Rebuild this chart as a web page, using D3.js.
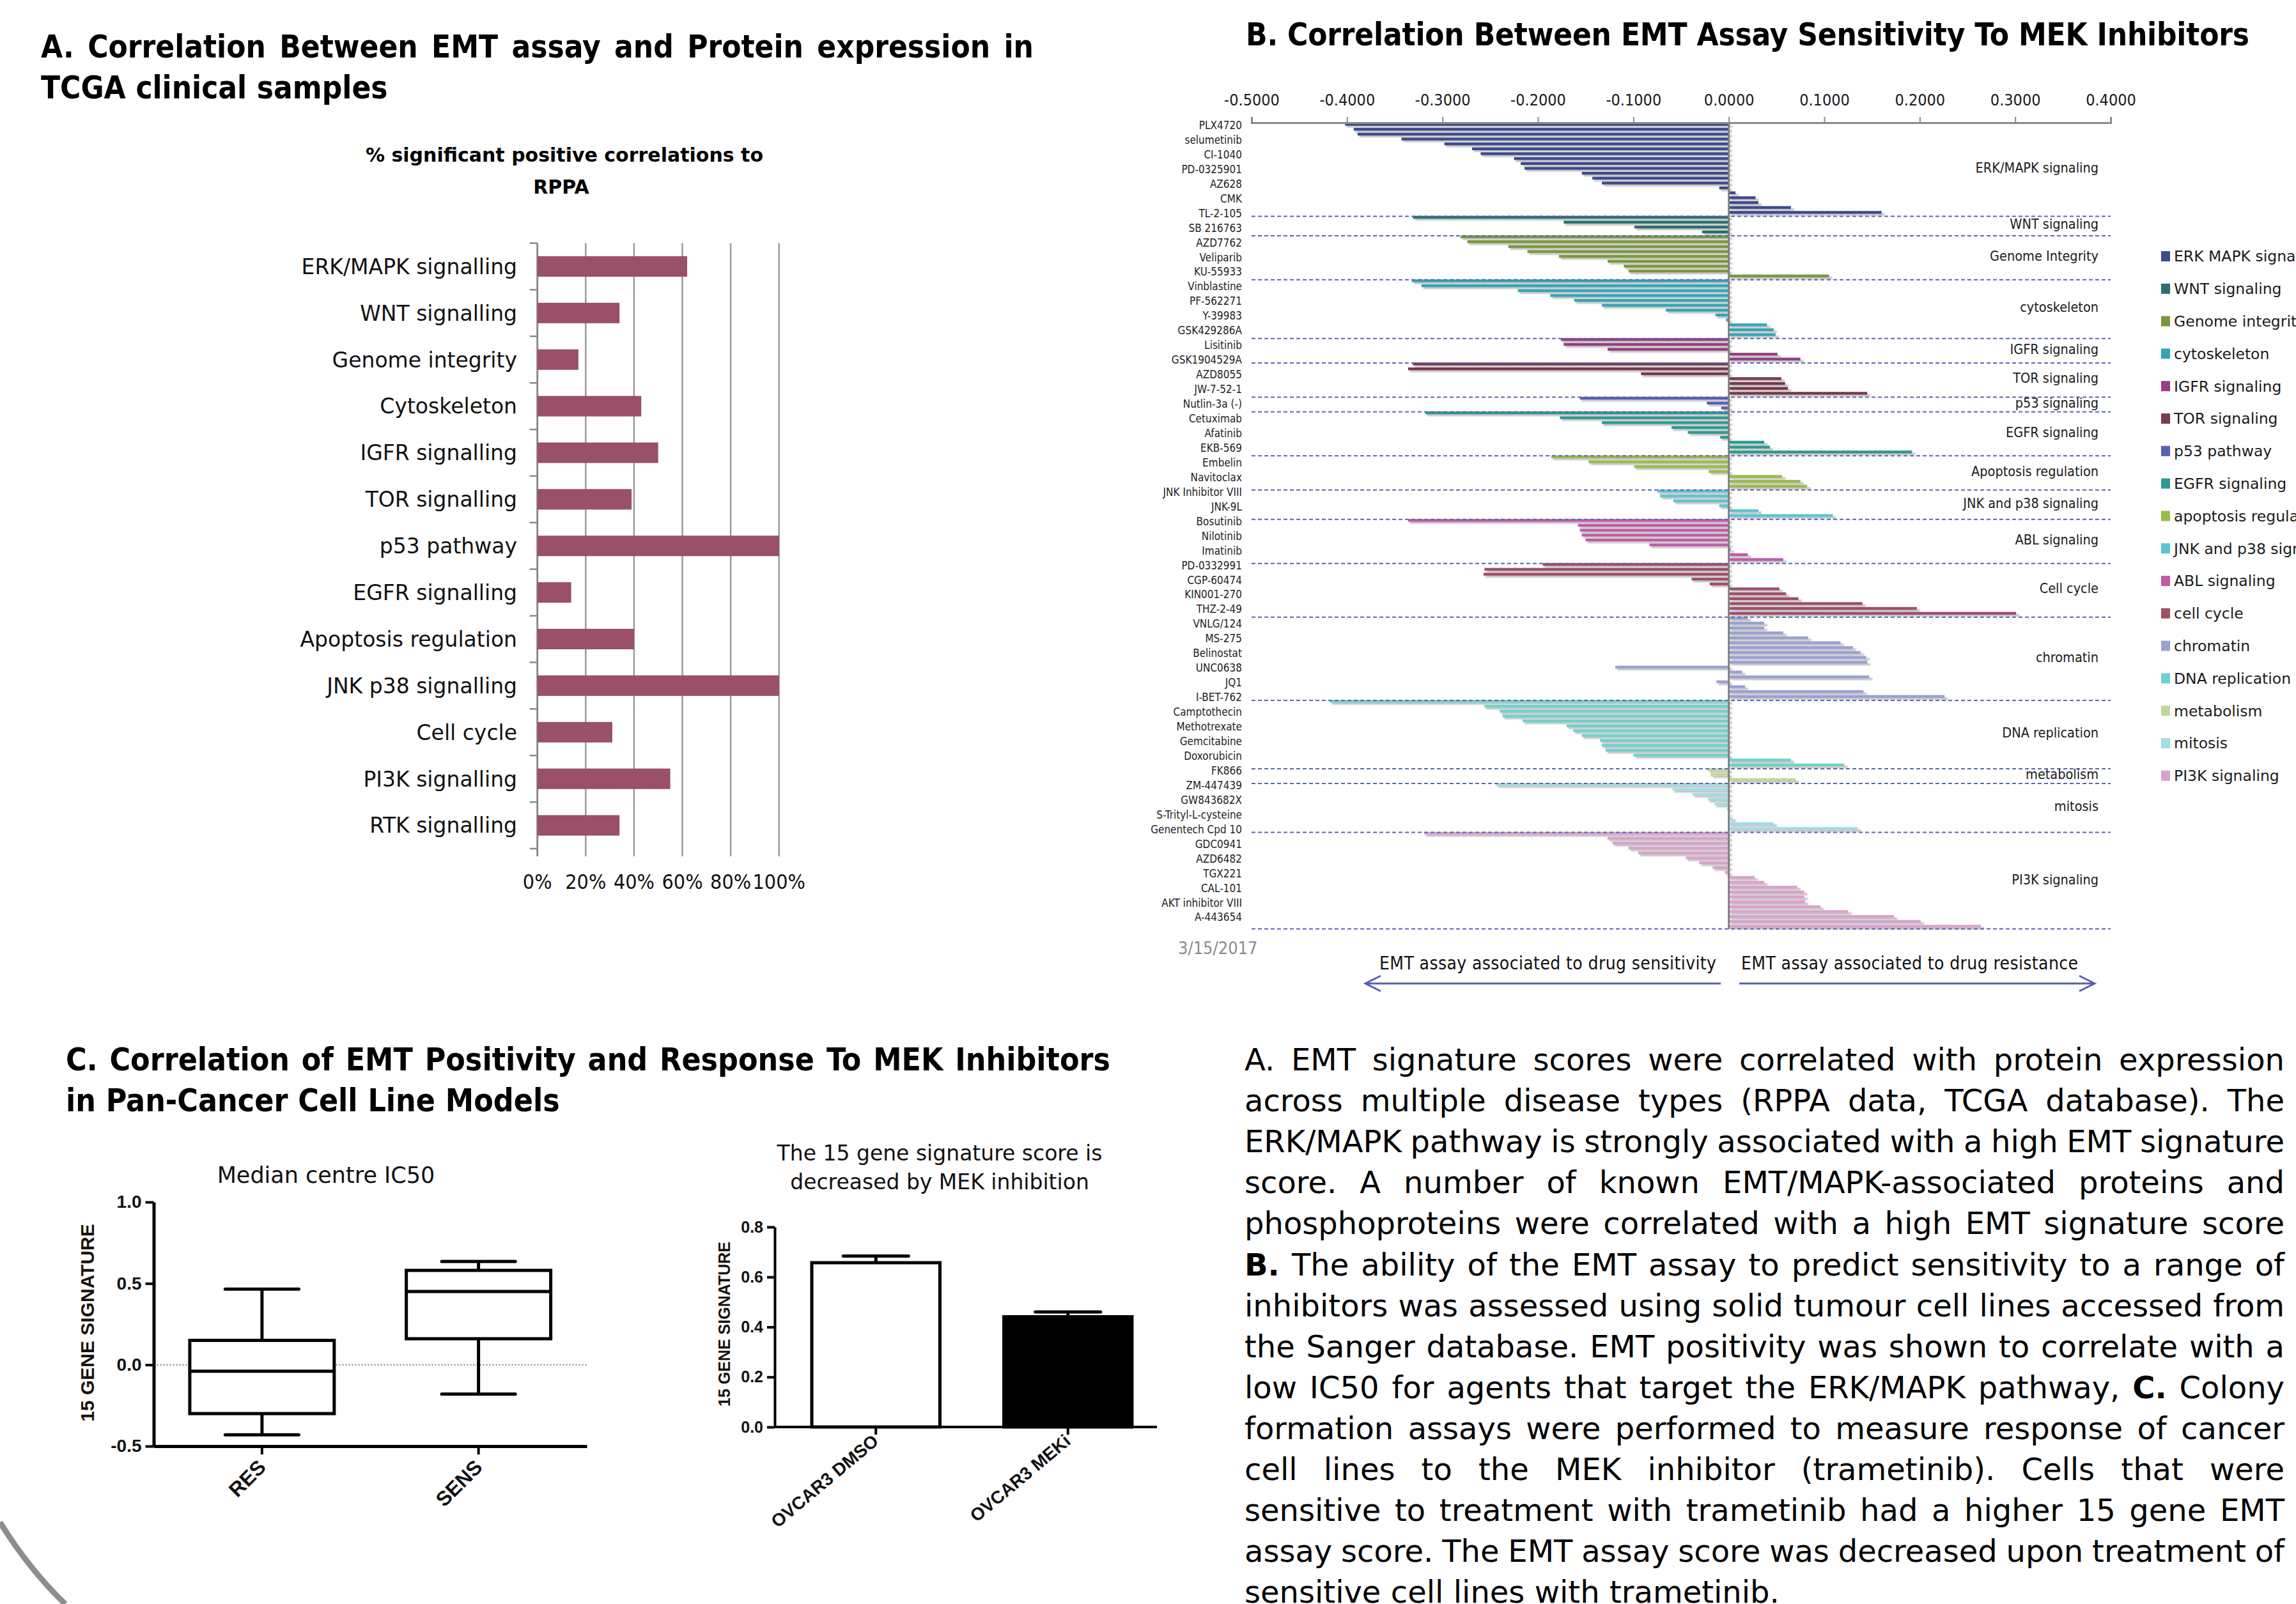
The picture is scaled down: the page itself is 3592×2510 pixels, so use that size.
<!DOCTYPE html>
<html lang="en">
<head>
  <meta charset="UTF-8">
  <title>EMT assay correlations</title>
  <style>
    body { margin: 0; background: #fff; }
    svg { display: block; background: #fff; }
    text { font-family: 'DejaVu Sans Condensed', 'DejaVu Sans', sans-serif; font-stretch: condensed; }
    text.wide, .wide text { font-family: 'DejaVu Sans', sans-serif; font-stretch: normal; }
    .arial, .arial text { font-family: 'Liberation Sans', Arial, sans-serif; font-stretch: normal; font-weight: bold; }
  </style>
</head>
<body>
  <script src="https://cdn.jsdelivr.net/npm/d3@7"></script>
  <script>
    const W = 3592, H = 2510;

    // ---------- Panel A data ----------
    const rppaCategories = ["ERK/MAPK signalling", "WNT signalling", "Genome integrity", "Cytoskeleton",
      "IGFR signalling", "TOR signalling", "p53 pathway", "EGFR signalling", "Apoptosis regulation",
      "JNK p38 signalling", "Cell cycle", "PI3K signalling", "RTK signalling"];
    const rppaPercent = [62, 34, 17, 43, 50, 39, 100, 14, 40, 100, 31, 55, 34];
    const rppaTicks = [0, 20, 40, 60, 80, 100];

    // ---------- Panel B data ----------
    const groupLabels = ["ERK/MAPK signaling", "WNT signaling", "Genome Integrity", "cytoskeleton",
      "IGFR signaling", "TOR signaling", "p53 signaling", "EGFR signaling", "Apoptosis regulation",
      "JNK and p38 signaling", "ABL signaling", "Cell cycle", "chromatin", "DNA replication",
      "metabolism", "mitosis", "PI3K signaling"];
    const legendLabels = ["ERK MAPK signaling", "WNT signaling", "Genome integrity", "cytoskeleton",
      "IGFR signaling", "TOR signaling", "p53 pathway", "EGFR signaling", "apoptosis regulation",
      "JNK and p38 signaling", "ABL signaling", "cell cycle", "chromatin", "DNA replication",
      "metabolism", "mitosis", "PI3K signaling"];
    const groupColors = ["#3d4a8c", "#2b6e6e", "#7a983a", "#34a5b6", "#94407f", "#773b4b", "#5860b2",
      "#2e9990", "#9bbb4a", "#5ec4d3", "#c05ca7", "#9f4f68", "#9aa1d2", "#70d1cc", "#c0d99a",
      "#a3dde6", "#d9a3cb"];

    const erkVals = [-0.402, -0.393, -0.389, -0.343, -0.298, -0.269, -0.260, -0.225, -0.218, -0.214,
      -0.154, -0.143, -0.133, -0.010, 0.007, 0.028, 0.031, 0.065, 0.160];
    const wntVals = [-0.331, -0.173, -0.099, -0.028];
    const genomeVals = [-0.281, -0.274, -0.231, -0.211, -0.178, -0.127, -0.110, -0.105, 0.105];
    const cytoVals = [-0.332, -0.322, -0.221, -0.187, -0.162, -0.133, -0.066, -0.014, -0.003, 0.040, 0.047, 0.049];
    const igfrVals = [-0.176, -0.173, -0.127, 0.051, 0.075];
    const torVals = [-0.331, -0.336, -0.092, 0.055, 0.059, 0.062, 0.145];
    const p53Vals = [-0.156, -0.023, -0.008];
    const egfrVals = [-0.318, -0.177, -0.133, -0.060, -0.043, -0.009, 0.037, 0.043, 0.192];
    const apopVals = [-0.186, -0.147, -0.099, -0.021, 0.056, 0.075, 0.082];
    const jnkVals = [-0.075, -0.072, -0.058, -0.010, 0.031, 0.109];
    const ablVals = [-0.336, -0.158, -0.156, -0.154, -0.150, -0.083, 0.002, 0.020, 0.057];
    const cellVals = [-0.195, -0.256, -0.257, -0.039, -0.020, 0.053, 0.060, 0.073, 0.140, 0.197, 0.301];
    const chromVals = [0.020, 0.037, 0.037, 0.057, 0.083, 0.117, 0.130, 0.138, 0.144, 0.145, -0.119,
      0.014, 0.147, -0.013, 0.017, 0.141, 0.226];
    const dnaVals = [-0.418, -0.256, -0.240, -0.237, -0.216, -0.170, -0.163, -0.154, -0.135, -0.133,
      -0.129, -0.100, 0.065, 0.121];
    const metabVals = [-0.022, -0.019, 0.070];
    const mitosisVals = [-0.244, -0.059, -0.038, -0.022, -0.015, -0.002, 0, 0.004, 0.047, 0.135];
    const pi3kVals = [-0.319, -0.127, -0.122, -0.105, -0.095, -0.045, -0.031, -0.017, -0.004, 0.027,
      0.037, 0.072, 0.079, 0.079, 0.080, 0.096, 0.125, 0.173, 0.201, 0.264];

    // only every third drug is labelled on the axis
    const drugLabels = ["PLX4720", "selumetinib", "CI-1040", "PD-0325901", "AZ628", "CMK", "TL-2-105",
      "SB 216763", "AZD7762", "Veliparib", "KU-55933", "Vinblastine", "PF-562271", "Y-39983",
      "GSK429286A", "Lisitinib", "GSK1904529A", "AZD8055", "JW-7-52-1", "Nutlin-3a (-)", "Cetuximab",
      "Afatinib", "EKB-569", "Embelin", "Navitoclax", "JNK Inhibitor VIII", "JNK-9L", "Bosutinib",
      "Nilotinib", "Imatinib", "PD-0332991", "CGP-60474", "KIN001-270", "THZ-2-49", "VNLG/124",
      "MS-275", "Belinostat", "UNC0638", "JQ1", "I-BET-762", "Camptothecin", "Methotrexate",
      "Gemcitabine", "Doxorubicin", "FK866", "ZM-447439", "GW843682X", "S-Trityl-L-cysteine",
      "Genentech Cpd 10", "GDC0941", "AZD6482", "TGX221", "CAL-101", "AKT inhibitor VIII", "A-443654"];
    const corrTicks = [-0.5, -0.4, -0.3, -0.2, -0.1, 0, 0.1, 0.2, 0.3, 0.4];

    // ---------- Panel C data ----------
    const boxGroups = ["RES", "SENS"];
    const boxMin = [-0.43, -0.18];
    const boxQ1 = [-0.30, 0.16];
    const boxMedian = [-0.04, 0.45];
    const boxQ3 = [0.15, 0.58];
    const boxMax = [0.465, 0.635];
    const boxTicks = [-0.5, 0.0, 0.5, 1.0];

    const barGroups = ["OVCAR3 DMSO", "OVCAR3 MEKi"];
    const barMeans = [0.657, 0.441];
    const barErrors = [0.027, 0.019];
    const barTicks = [0.0, 0.2, 0.4, 0.6, 0.8];

    const paragraph = [
      "A. EMT signature scores were correlated with protein expression",
      "across multiple disease types (RPPA data, TCGA database). The",
      "ERK/MAPK pathway is strongly associated with a high EMT signature",
      "score. A number of known EMT/MAPK-associated proteins and",
      "phosphoproteins were correlated with a high EMT signature score",
      "*B. The ability of the EMT assay to predict sensitivity to a range of",
      "inhibitors was assessed using solid tumour cell lines accessed from",
      "the Sanger database. EMT positivity was shown to correlate with a",
      "low IC50 for agents that target the ERK/MAPK pathway, *C. Colony",
      "formation assays were performed to measure response of cancer",
      "cell lines to the MEK inhibitor (trametinib). Cells that were",
      "sensitive to treatment with trametinib had a higher 15 gene EMT",
      "assay score. The EMT assay score was decreased upon treatment of",
      "sensitive cell lines with trametinib."
    ];

    const svg = d3.select("body").append("svg")
      .attr("width", W)
      .attr("height", H);

    const defs = svg.append("defs");
    defs.append("filter").attr("id", "soft")
      .attr("x", "-5%").attr("y", "-100%").attr("width", "110%").attr("height", "300%")
      .append("feGaussianBlur").attr("stdDeviation", 1.2);

    // lays words out one by one so that every line fills the given width (justified)
    function justify(parent, lines, opt) {
      lines.forEach(function(line, i) {
        const y = opt.y + i * opt.lineHeight;
        const words = line.split(" ");
        const nodes = words.map(function(w) {
          const bold = opt.bold || w.startsWith("*");
          return parent.append("text")
            .attr("class", opt.cls || null)
            .attr("y", y)
            .attr("font-size", opt.size)
            .attr("font-weight", bold ? "bold" : "normal")
            .attr("fill", "#000")
            .text(w.replace(/^\*/, ""));
        });
        const widths = nodes.map(n => n.node().getComputedTextLength());
        const isLast = i === lines.length - 1 && !opt.justifyLast;
        let gap = (opt.width - d3.sum(widths)) / Math.max(1, words.length - 1);
        if (isLast) gap = opt.size * 0.32;
        let x = opt.x;
        nodes.forEach(function(n, k) {
          n.attr("x", x);
          x += widths[k] + gap;
        });
      });
    }

    // ================= Panel A =================
    const gA = svg.append("g");
    justify(gA, ["A. Correlation Between EMT assay and Protein expression in", "TCGA clinical samples"],
      { x: 64, y: 90, lineHeight: 64, width: 1553, size: 49, bold: true });

    gA.append("text").attr("class", "wide").attr("x", 883).attr("y", 253).attr("text-anchor", "middle")
      .attr("font-size", 30).attr("font-weight", "bold").text("% significant positive correlations to");
    gA.append("text").attr("class", "wide").attr("x", 878).attr("y", 303).attr("text-anchor", "middle")
      .attr("font-size", 30).attr("font-weight", "bold").text("RPPA");

    const xA = d3.scaleLinear().domain([0, 100]).range([840.7, 1218.7]);
    const yA = d3.scaleBand().domain(rppaCategories).range([380.5, 1328])
      .paddingInner(0.56).paddingOuter(0.28);

    // gridlines + bottom ticks
    gA.selectAll("line.grid").data(rppaTicks.slice(1)).join("line")
      .attr("class", "grid")
      .attr("x1", d => xA(d)).attr("x2", d => xA(d))
      .attr("y1", 380.5).attr("y2", 1340)
      .attr("stroke", "#9a9a9a").attr("stroke-width", 2.5);
    gA.append("line").attr("x1", xA(0)).attr("x2", xA(0)).attr("y1", 380.5).attr("y2", 1340)
      .attr("stroke", "#8a8a8a").attr("stroke-width", 3);
    // category separators on the y axis
    const stepA = yA.step();
    gA.selectAll("line.ytick").data(d3.range(rppaCategories.length + 1)).join("line")
      .attr("class", "ytick")
      .attr("x1", xA(0) - 12).attr("x2", xA(0))
      .attr("y1", k => 380.5 + k * stepA).attr("y2", k => 380.5 + k * stepA)
      .attr("stroke", "#8a8a8a").attr("stroke-width", 2.5);

    gA.selectAll("rect.bar").data(rppaCategories).join("rect")
      .attr("class", "bar")
      .attr("x", xA(0))
      .attr("y", d => yA(d))
      .attr("width", (d, i) => xA(rppaPercent[i]) - xA(0))
      .attr("height", yA.bandwidth())
      .attr("fill", "#9a5068");

    gA.selectAll("text.cat").data(rppaCategories).join("text")
      .attr("class", "cat wide")
      .attr("x", 809)
      .attr("y", d => yA(d) + yA.bandwidth() / 2)
      .attr("dy", "0.36em")
      .attr("text-anchor", "end")
      .attr("font-size", 33)
      .attr("fill", "#111")
      .text(d => d);

    gA.selectAll("text.xt").data(rppaTicks).join("text")
      .attr("class", "xt")
      .attr("x", d => xA(d))
      .attr("y", 1391)
      .attr("text-anchor", "middle")
      .attr("font-size", 32)
      .attr("fill", "#111")
      .text(d => d + "%");

    // ================= Panel B =================
    const gB = svg.append("g");
    gB.append("text").attr("x", 1949).attr("y", 71).attr("font-size", 49).attr("font-weight", "bold")
      .attr("textLength", 1570).attr("lengthAdjust", "spacing")
      .text("B. Correlation Between EMT Assay Sensitivity To MEK Inhibitors");

    const groupVals = [erkVals, wntVals, genomeVals, cytoVals, igfrVals, torVals, p53Vals, egfrVals,
      apopVals, jnkVals, ablVals, cellVals, chromVals, dnaVals, metabVals, mitosisVals, pi3kVals];
    const rows = [];
    const groupStart = [];
    groupVals.forEach(function(vals, gi) {
      groupStart.push(rows.length);
      vals.forEach(v => rows.push({ g: gi, v: v }));
    });

    const xB = d3.scaleLinear().domain([-0.5, 0.4]).range([1958, 3302]);
    const yB = d3.scaleBand().domain(d3.range(rows.length)).range([192, 1454.5]);
    const bw = yB.step();

    // drop shadows under bars
    gB.append("g").attr("filter", "url(#soft)")
      .selectAll("rect").data(rows).join("rect")
      .attr("x", d => Math.min(xB(d.v), xB(0)) + 3)
      .attr("y", (d, i) => yB(i) + 4.2)
      .attr("width", d => Math.abs(xB(d.v) - xB(0)) + 2)
      .attr("height", 3.2)
      .attr("fill", "#b9b9b9");

    gB.append("g").selectAll("rect").data(rows).join("rect")
      .attr("x", d => Math.min(xB(d.v), xB(0)))
      .attr("y", (d, i) => yB(i) + 0.4)
      .attr("width", d => Math.abs(xB(d.v) - xB(0)))
      .attr("height", 4.4)
      .attr("fill", d => groupColors[d.g]);

    // dashed group separators
    const sepRows = groupStart.slice(1).concat([rows.length - 0.25]);
    gB.selectAll("line.sep").data(sepRows).join("line")
      .attr("class", "sep")
      .attr("x1", xB(-0.5)).attr("x2", xB(0.4))
      .attr("y1", r => 192 + r * bw + 1).attr("y2", r => 192 + r * bw + 1)
      .attr("stroke", "#5c63b5").attr("stroke-width", 2).attr("stroke-dasharray", "6,4");

    // zero line
    gB.append("line").attr("x1", xB(0)).attr("x2", xB(0)).attr("y1", 192).attr("y2", 1454)
      .attr("stroke", "#7f7f7f").attr("stroke-width", 3);

    const axB = gB.append("g").attr("transform", "translate(0,192)")
      .call(d3.axisTop(xB).tickValues(corrTicks).tickFormat(d => d.toFixed(4))
        .tickSize(9).tickSizeOuter(9).tickPadding(18));
    axB.select(".domain").attr("stroke", "#8a8a8a").attr("stroke-width", 3);
    axB.selectAll(".tick line").attr("stroke", "#8a8a8a").attr("stroke-width", 2);
    axB.selectAll(".tick text").attr("font-size", 25).attr("fill", "#1a1a1a")
      .style("font-family", "'DejaVu Sans Condensed','DejaVu Sans',sans-serif");

    gB.selectAll("text.drug").data(drugLabels).join("text")
      .attr("class", "drug")
      .attr("x", 1943)
      .attr("y", (d, i) => yB(i * 3) + bw / 2)
      .attr("dy", "0.36em")
      .attr("text-anchor", "end")
      .attr("font-size", 17)
      .attr("fill", "#222")
      .text(d => d);

    gB.selectAll("text.grp").data(groupLabels).join("text")
      .attr("class", "grp")
      .attr("x", 3283)
      .attr("y", (d, i) => 192 + (groupStart[i] + groupVals[i].length / 2) * bw - 2)
      .attr("dy", "0.36em")
      .attr("text-anchor", "end")
      .attr("font-size", 21.5)
      .attr("fill", "#1a1a1a")
      .text(d => d);

    // legend (the page edge cuts the longest entries, as in the original slide)
    const leg = gB.append("g");
    leg.selectAll("rect").data(legendLabels).join("rect")
      .attr("x", 3381).attr("y", (d, i) => 401 + i * 50.8 - 8)
      .attr("width", 14).attr("height", 16)
      .attr("fill", (d, i) => groupColors[i]);
    leg.selectAll("text").data(legendLabels).join("text")
      .attr("class", "wide")
      .attr("x", 3401).attr("y", (d, i) => 401 + i * 50.8)
      .attr("dy", "0.36em")
      .attr("font-size", 23.5)
      .attr("fill", "#1a1a1a")
      .text(d => d);

    gB.append("text").attr("x", 1843).attr("y", 1493).attr("font-size", 27).attr("fill", "#8c8c8c")
      .text("3/15/2017");

    gB.append("text").attr("x", 2158).attr("y", 1517).attr("font-size", 28).attr("fill", "#111")
      .attr("textLength", 527).attr("lengthAdjust", "spacing")
      .text("EMT assay associated to drug sensitivity");
    gB.append("text").attr("x", 2724).attr("y", 1517).attr("font-size", 28).attr("fill", "#111")
      .attr("textLength", 527).attr("lengthAdjust", "spacing")
      .text("EMT assay associated to drug resistance");

    const arrowCol = "#5b5fae";
    gB.append("path").attr("d", "M2692,1539 H2137 M2160,1527 L2136,1539 L2160,1551")
      .attr("fill", "none").attr("stroke", arrowCol).attr("stroke-width", 3);
    gB.append("path").attr("d", "M2721,1539 H3276 M3253,1527 L3277,1539 L3253,1551")
      .attr("fill", "none").attr("stroke", arrowCol).attr("stroke-width", 3);

    // ================= Panel C =================
    const gC = svg.append("g");
    justify(gC, ["C. Correlation of EMT Positivity and Response To MEK Inhibitors", "in Pan-Cancer Cell Line Models"],
      { x: 103, y: 1675, lineHeight: 64, width: 1634, size: 49.5, bold: true });

    gC.append("text").attr("class", "wide").attr("x", 510).attr("y", 1851).attr("text-anchor", "middle")
      .attr("font-size", 35).attr("fill", "#111").text("Median centre IC50");

    // box plot
    const yC = d3.scaleLinear().domain([-0.5, 1.0]).range([2263, 1881]);
    const xC = d3.scaleBand().domain(boxGroups).range([240.5, 918]);
    const boxW = xC.bandwidth() * 0.667;
    const capW = xC.bandwidth() * 0.34;

    gC.append("line").attr("x1", 240.5).attr("x2", 918).attr("y1", yC(0)).attr("y2", yC(0))
      .attr("stroke", "#777").attr("stroke-width", 2).attr("stroke-dasharray", "2,3");

    const boxes = gC.selectAll("g.box").data(boxGroups).join("g").attr("class", "box");
    boxes.append("line")
      .attr("x1", d => xC(d) + xC.bandwidth() / 2).attr("x2", d => xC(d) + xC.bandwidth() / 2)
      .attr("y1", (d, i) => yC(boxMin[i])).attr("y2", (d, i) => yC(boxMax[i]))
      .attr("stroke", "#000").attr("stroke-width", 5);
    boxes.append("rect")
      .attr("x", d => xC(d) + (xC.bandwidth() - boxW) / 2)
      .attr("y", (d, i) => yC(boxQ3[i]))
      .attr("width", boxW)
      .attr("height", (d, i) => yC(boxQ1[i]) - yC(boxQ3[i]))
      .attr("fill", "#fff").attr("stroke", "#000").attr("stroke-width", 5);
    boxes.append("line")
      .attr("x1", d => xC(d) + (xC.bandwidth() - boxW) / 2)
      .attr("x2", d => xC(d) + (xC.bandwidth() + boxW) / 2)
      .attr("y1", (d, i) => yC(boxMedian[i])).attr("y2", (d, i) => yC(boxMedian[i]))
      .attr("stroke", "#000").attr("stroke-width", 5);
    [boxMin, boxMax].forEach(function(arr) {
      boxes.append("line")
        .attr("x1", d => xC(d) + (xC.bandwidth() - capW) / 2)
        .attr("x2", d => xC(d) + (xC.bandwidth() + capW) / 2)
        .attr("y1", (d, i) => yC(arr[i])).attr("y2", (d, i) => yC(arr[i]))
        .attr("stroke", "#000").attr("stroke-width", 5).attr("stroke-linecap", "round");
    });

    const axCy = gC.append("g").attr("class", "arial").attr("transform", "translate(240.5,0)")
      .call(d3.axisLeft(yC).tickValues(boxTicks).tickFormat(d => d.toFixed(1)).tickSize(13).tickSizeOuter(0).tickPadding(6));
    const axCx = gC.append("g").attr("class", "arial").attr("transform", "translate(0,2263)")
      .call(d3.axisBottom(xC).tickSize(13).tickSizeOuter(0).tickFormat(""));
    [axCy, axCx].forEach(function(ax) {
      ax.select(".domain").attr("stroke", "#000").attr("stroke-width", 5);
      ax.selectAll(".tick line").attr("stroke", "#000").attr("stroke-width", 4);
    });
    axCy.selectAll(".tick text").attr("font-size", 28).attr("fill", "#111");
    gC.selectAll("text.boxcat").data(boxGroups).join("text")
      .attr("class", "boxcat arial")
      .attr("transform", d => "translate(" + (xC(d) + xC.bandwidth() / 2 + 8) + ",2298) rotate(-45)")
      .attr("text-anchor", "end")
      .attr("font-size", 32)
      .attr("fill", "#111")
      .text(d => d);
    gC.append("text").attr("class", "arial")
      .attr("transform", "translate(147,2070) rotate(-90)")
      .attr("text-anchor", "middle").attr("font-size", 30).attr("fill", "#1a1208")
      .text("15 GENE SIGNATURE");

    // bar chart
    gC.append("text").attr("class", "wide").attr("x", 1470).attr("y", 1816).attr("text-anchor", "middle")
      .attr("font-size", 33).attr("fill", "#111").text("The 15 gene signature score is");
    gC.append("text").attr("class", "wide").attr("x", 1470).attr("y", 1861).attr("text-anchor", "middle")
      .attr("font-size", 33).attr("fill", "#111").text("decreased by MEK inhibition");

    const yD = d3.scaleLinear().domain([0, 0.8]).range([2233, 1920]);
    const xD = d3.scaleBand().domain(barGroups).range([1220, 1821]);
    const barW = xD.bandwidth() * 0.667;
    const errCap = xD.bandwidth() * 0.34;
    const bars = gC.selectAll("g.bar").data(barGroups).join("g").attr("class", "bar");
    bars.append("line")
      .attr("x1", d => xD(d) + xD.bandwidth() / 2).attr("x2", d => xD(d) + xD.bandwidth() / 2)
      .attr("y1", (d, i) => yD(barMeans[i])).attr("y2", (d, i) => yD(barMeans[i] + barErrors[i]))
      .attr("stroke", "#000").attr("stroke-width", 5);
    bars.append("line")
      .attr("x1", d => xD(d) + (xD.bandwidth() - errCap) / 2)
      .attr("x2", d => xD(d) + (xD.bandwidth() + errCap) / 2)
      .attr("y1", (d, i) => yD(barMeans[i] + barErrors[i])).attr("y2", (d, i) => yD(barMeans[i] + barErrors[i]))
      .attr("stroke", "#000").attr("stroke-width", 5).attr("stroke-linecap", "round");
    bars.append("rect")
      .attr("x", d => xD(d) + (xD.bandwidth() - barW) / 2)
      .attr("y", (d, i) => yD(barMeans[i]))
      .attr("width", barW)
      .attr("height", (d, i) => yD(0) - yD(barMeans[i]))
      .attr("fill", (d, i) => i === 0 ? "#fff" : "#000")
      .attr("stroke", "#000").attr("stroke-width", 5);

    const axDy = gC.append("g").attr("class", "arial").attr("transform", "translate(1212,0)")
      .call(d3.axisLeft(yD).tickValues(barTicks).tickFormat(d => d.toFixed(1)).tickSize(12).tickSizeOuter(0).tickPadding(6));
    const axDx = gC.append("g").attr("class", "arial").attr("transform", "translate(0,2233)")
      .call(d3.axisBottom(xD).tickSize(12).tickSizeOuter(0).tickFormat(""));
    axDx.select(".domain").attr("d", "M1212,0H1810");
    [axDy, axDx].forEach(function(ax) {
      ax.select(".domain").attr("stroke", "#000").attr("stroke-width", 4);
      ax.selectAll(".tick line").attr("stroke", "#000").attr("stroke-width", 4);
    });
    axDy.selectAll(".tick text").attr("font-size", 25).attr("fill", "#111");
    gC.selectAll("text.barcat").data(barGroups).join("text")
      .attr("class", "barcat arial")
      .attr("transform", d => "translate(" + (xD(d) + xD.bandwidth() / 2 + 6) + ",2258) rotate(-40)")
      .attr("text-anchor", "end")
      .attr("font-size", 28)
      .attr("fill", "#111")
      .text(d => d);
    gC.append("text").attr("class", "arial")
      .attr("transform", "translate(1142,2072) rotate(-90)")
      .attr("text-anchor", "middle").attr("font-size", 25).attr("fill", "#1a1208")
      .text("15 GENE SIGNATURE");

    // decorative arc, bottom-left corner
    svg.append("path").attr("d", "M0,2382 Q45,2455 102,2510")
      .attr("fill", "none").attr("stroke", "#8d8d8d").attr("stroke-width", 9);

    // ================= Text =================
    const gT = svg.append("g");
    justify(gT, paragraph, { x: 1947, y: 1675, lineHeight: 64.1, width: 1627, size: 48, cls: "wide" });
  </script>
</body>
</html>
